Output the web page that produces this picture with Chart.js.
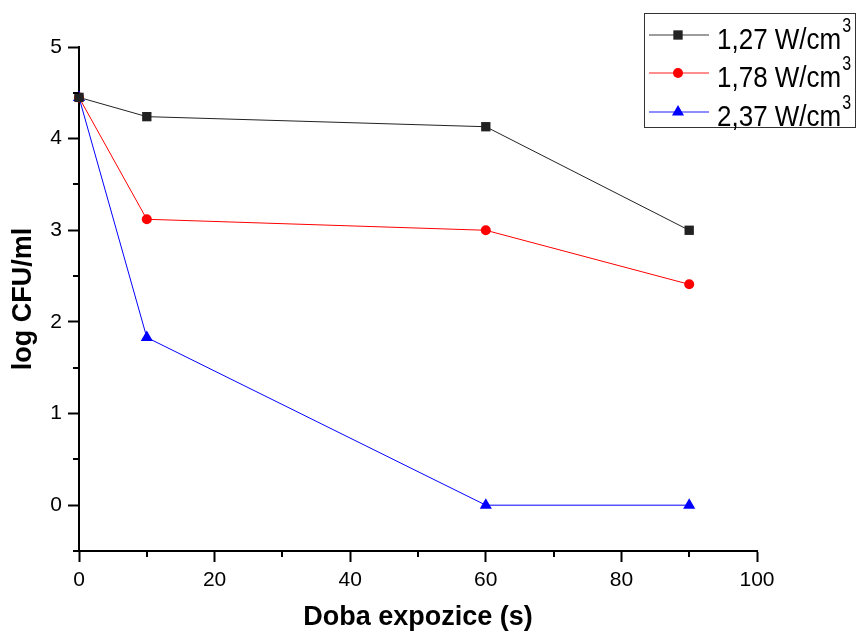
<!DOCTYPE html>
<html>
<head>
<meta charset="utf-8">
<script src="https://cdn.jsdelivr.net/npm/chart.js@4.4.1/dist/chart.umd.min.js"></script>
<style>
  html, body { margin: 0; padding: 0; background: #fff; }
  #wrap { width: 856px; height: 635px; }
</style>
</head>
<body>
<div id="wrap"><canvas id="chart"></canvas></div>
<script>
const times = [0, 10, 60, 90]
const series127 = [4.45, 4.24, 4.13, 3.0]
const series178 = [4.45, 3.12, 3.0, 2.41]
const series237 = [4.45, 1.83, 0, 0]
const seriesNames = ['1,27 W/cm', '1,78 W/cm', '2,37 W/cm']
const xMajor = [0, 20, 40, 60, 80, 100]
const xMinor = [10, 30, 50, 70, 90]
const yMajor = [0, 1, 2, 3, 4, 5]
const yMinor = [-0.5, 0.5, 1.5, 2.5, 3.5, 4.5]

const FONT = "'Liberation Sans', Arial, sans-serif"

const toPoints = (vals) => times.map((t, i) => ({x: t, y: vals[i]}))

const styles = [
    {color: '#222', style: 'rect', radius: 6.6},
    {color: '#ff0000', style: 'circle', radius: 5},
    {color: '#0000ff', style: 'triangle', radius: 7}
]

const minorTicks = {
    id: 'minorTicks',
    afterDraw(chart) {
        const ctx = chart.ctx
        const xs = chart.scales.x
        const ys = chart.scales.y
        const area = chart.chartArea
        ctx.save()
        ctx.strokeStyle = '#000'
        ctx.lineWidth = 2
        xMinor.forEach(v => {
            const px = Math.round(xs.getPixelForValue(v))
            ctx.beginPath()
            ctx.moveTo(px, area.bottom)
            ctx.lineTo(px, area.bottom + 6)
            ctx.stroke()
        })
        yMinor.forEach(v => {
            const py = Math.round(ys.getPixelForValue(v))
            ctx.beginPath()
            ctx.moveTo(area.left, py)
            ctx.lineTo(area.left - 6, py)
            ctx.stroke()
        })
        ctx.restore()
    }
}

// legend in a box with superscript 3
const boxLegend = {
    id: 'boxLegend',
    afterDraw(chart) {
        const ctx = chart.ctx
        ctx.save()
        ctx.strokeStyle = '#333'
        ctx.lineWidth = 1
        ctx.strokeRect(644.5, 13.5, 211, 114)
        const rows = [35, 73, 112]
        seriesNames.forEach((name, i) => {
            const y = rows[i]
            const s = styles[i]
            ctx.strokeStyle = s.color
            ctx.globalAlpha = 0.6
            ctx.lineWidth = 1.5
            ctx.beginPath()
            ctx.moveTo(649, y)
            ctx.lineTo(709, y)
            ctx.stroke()
            ctx.globalAlpha = 1
            ctx.fillStyle = s.color
            Chart.helpers.drawPoint(ctx, {pointStyle: s.style, radius: s.radius, rotation: 0, borderWidth: 0}, 678, y)
            ctx.fillStyle = '#000'
            ctx.textBaseline = 'alphabetic'
            ctx.font = '26px ' + FONT
            const w = ctx.measureText(name).width
            ctx.save()
            ctx.translate(717, y + 14)
            ctx.scale(1, 1.17)
            ctx.fillText(name, 0, 0)
            ctx.restore()
            ctx.font = '16px ' + FONT
            ctx.save()
            ctx.translate(717 + w + 1, y - 3)
            ctx.scale(1, 1.3)
            ctx.fillText('3', 0, 0)
            ctx.restore()
        })
        ctx.restore()
    }
}

const datasets = [series127, series178, series237].map((vals, i) => ({
    label: seriesNames[i],
    data: toPoints(vals),
    borderColor: styles[i].color,
    backgroundColor: styles[i].color,
    borderWidth: 1,
    pointStyle: styles[i].style,
    pointRadius: styles[i].radius,
    pointHoverRadius: styles[i].radius,
    pointBorderWidth: 0,
    tension: 0,
    clip: false
}))

new Chart(document.getElementById('chart'), {
    type: 'line',
    data: {datasets: datasets},
    options: {
        responsive: true,
        maintainAspectRatio: false,
        animation: false,
        events: [],
        layout: {padding: {top: 47, right: 99, left: 0, bottom: 0}},
        plugins: {legend: {display: false}, tooltip: {enabled: false}},
        scales: {
            x: {
                type: 'linear',
                min: 0,
                max: 100,
                afterFit: (scale) => { scale.height = 84 },
                afterBuildTicks: (scale) => { scale.ticks = xMajor.map(v => ({value: v})) },
                border: {display: true, color: '#000', width: 2},
                grid: {display: true, drawOnChartArea: false, drawTicks: true, tickLength: 11, tickWidth: 2, tickColor: '#000'},
                ticks: {color: '#000', font: {family: FONT, size: 21}, padding: 6, autoSkip: false, maxRotation: 0},
                title: {display: true, text: 'Doba expozice (s)', color: '#000', font: {family: FONT, size: 27, weight: 'bold'}, padding: {top: 0, bottom: 1}}
            },
            y: {
                type: 'linear',
                min: -0.5,
                max: 5,
                afterFit: (scale) => { scale.width = 79 },
                afterBuildTicks: (scale) => { scale.ticks = yMajor.map(v => ({value: v})) },
                border: {display: true, color: '#000', width: 2},
                grid: {display: true, drawOnChartArea: false, drawTicks: true, tickLength: 11, tickWidth: 2, tickColor: '#000'},
                ticks: {color: '#000', font: {family: FONT, size: 21}, padding: 6, autoSkip: false},
                title: {display: true, text: 'log CFU/ml', color: '#000', font: {family: FONT, size: 27, weight: 'bold'}, padding: {top: 7, bottom: 0}}
            }
        }
    },
    plugins: [minorTicks, boxLegend]
})
</script>
</body>
</html>
